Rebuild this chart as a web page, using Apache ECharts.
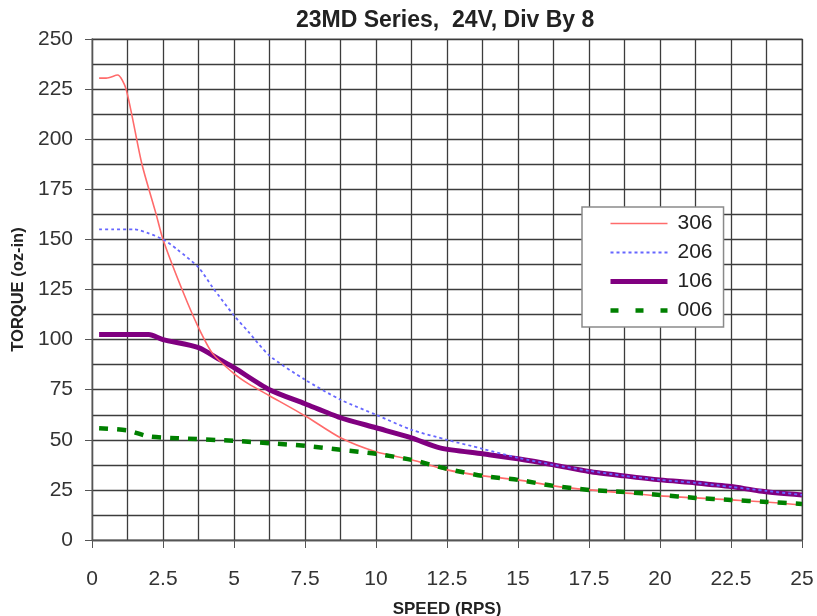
<!DOCTYPE html>
<html>
<head>
<meta charset="utf-8">
<script src="https://cdn.jsdelivr.net/npm/echarts@6/dist/echarts.min.js"></script>
<style>
html,body{margin:0;padding:0;background:#fff;}
#chart{width:817px;height:616px;}
</style>
</head>
<body>
<div id="chart"></div>
<script>
// ---- data (speed in RPS, torque in oz-in) ----
const seriesNames = ['306', '206', '106', '006'];

const speed306  = [0.25, 0.5, 0.9, 1.2, 1.75, 2.25, 2.5, 3.2, 3.75, 4.25, 5, 5.5, 6.25, 7.5, 8.75, 10, 11.25, 12.5, 13.75, 15, 16.25, 17.5, 18.75, 20, 21.25, 22.5, 23.75, 25];
const torque306 = [230.5, 230.5, 232, 225, 188, 163, 150, 124, 106, 93, 83, 78, 72, 62, 51, 44, 40, 35, 32, 30, 27, 25, 23.5, 22, 21, 20, 19, 17.5];

const speed206  = [0.25, 0.75, 1.5, 2.0, 2.5, 3.0, 3.75, 4.25, 5, 5.5, 6.25, 7.5, 8.75, 10, 11.25, 12.5, 13.75, 15, 16.25, 17.5, 18.75, 20, 21.25, 22.5, 23.75, 25];
const torque206 = [155, 155, 155, 153, 150, 145, 136, 126, 112, 104, 92, 80, 70, 62.5, 55, 50, 45.5, 41, 37.5, 34.5, 32, 30, 28.5, 26.5, 24.5, 22.5];

const speed106  = [0.25, 1, 2.0, 2.5, 3.75, 4.5, 5, 6.25, 7.5, 8.75, 10, 11.25, 12.25, 13.75, 15, 16.25, 17.5, 18.75, 20, 21.25, 22.5, 23.5, 25];
const torque106 = [102.5, 102.5, 102.5, 100, 96, 90, 86, 75, 68, 61, 56, 51, 46, 43, 40.5, 37.5, 34.2, 32, 30, 28.5, 26.7, 24.5, 22.5];

const speed006  = [0.25, 1.25, 2, 3, 5, 6.25, 7.5, 8.75, 10, 11.25, 12.5, 13.75, 15, 16.25, 17.5, 18.75, 20, 21.25, 22.5, 23.75, 25];
const torque006 = [55.8, 54.7, 51.7, 50.8, 49.5, 48.3, 47, 45, 43, 40, 35.5, 32, 30, 27, 25, 24, 22.5, 21, 20, 19, 18];

const xTickLabels = ['0', '2.5', '5', '7.5', '10', '12.5', '15', '17.5', '20', '22.5', '25'];
const yTickLabels = ['0', '25', '50', '75', '100', '125', '150', '175', '200', '225', '250'];

function pairs(xs, ys) { return xs.map((x, i) => [x, ys[i]]); }

const FONT = '"Liberation Sans", Arial, sans-serif';
const GRID = '#3c3c3c';

const COLORS = {'306': '#ff6b6b', '206': '#6666ff', '106': '#800080', '006': '#008000'};
const LINE = {
  '306': {color: COLORS['306'], width: 1.6},
  '206': {color: COLORS['206'], width: 1.8, type: [3, 3]},
  '106': {color: COLORS['106'], width: 5},
  '006': {color: COLORS['006'], width: 4.5, type: [9, 9]}
};
const LEGEND_LINE = {
  '306': {color: COLORS['306'], width: 1.6},
  '206': {color: COLORS['206'], width: 1.8, type: [3, 3]},
  '106': {color: COLORS['106'], width: 5},
  '006': {color: COLORS['006'], width: 4.5, type: [8, 17]}
};

const chart = echarts.init(document.getElementById('chart'), null, {renderer: 'canvas'});
chart.setOption({
  backgroundColor: '#fff',
  animation: false,
  title: {
    text: '23MD Series,  24V, Div By 8',
    left: 296, top: 9, padding: 0,
    textStyle: {fontFamily: FONT, fontSize: 23, fontWeight: 'bold', color: '#222'}
  },
  grid: {
    left: 92, right: 15, top: 39, bottom: 76,
    containLabel: false, outerBoundsMode: 'none',
    show: true, borderColor: '#b0b0b0', borderWidth: 1.5, backgroundColor: 'transparent'
  },
  legend: {
    orient: 'vertical', left: 582, top: 207,
    padding: [6, 11, 6, 26], itemGap: 8,
    itemWidth: 57, itemHeight: 21,
    backgroundColor: '#fff', borderColor: '#8a8a8a', borderWidth: 1.5,
    itemStyle: {opacity: 0},
    textStyle: {fontFamily: FONT, fontSize: 21, color: '#222', padding: [0, 0, 0, 5]},
    data: seriesNames.map(n => ({name: n, lineStyle: LEGEND_LINE[n]}))
  },
  xAxis: {
    type: 'value', min: 0, max: 25, interval: 2.5,
    name: 'SPEED (RPS)', nameLocation: 'middle', nameGap: 61,
    nameTextStyle: {fontFamily: FONT, fontSize: 17, fontWeight: 'bold', color: '#222'},
    axisLine: {show: true, lineStyle: {color: '#555', width: 1.3}},
    axisTick: {show: true, length: 8, lineStyle: {color: '#555'}},
    axisLabel: {fontFamily: FONT, fontSize: 21, color: '#333', margin: 29,
      formatter: v => xTickLabels[Math.round(v / 2.5)]},
    splitLine: {show: true, lineStyle: {color: GRID, width: 1.3}},
    minorTick: {show: false, splitNumber: 2},
    minorSplitLine: {show: true, lineStyle: {color: GRID, width: 1.3}}
  },
  yAxis: {
    type: 'value', min: 0, max: 250, interval: 25,
    name: 'TORQUE (oz-in)', nameLocation: 'middle', nameGap: 58, nameRotate: 90,
    nameTextStyle: {fontFamily: FONT, fontSize: 16.5, fontWeight: 'bold', color: '#222'},
    axisLine: {show: true, lineStyle: {color: '#555', width: 1.3}},
    axisTick: {show: true, length: 7, lineStyle: {color: '#555'}},
    axisLabel: {fontFamily: FONT, fontSize: 21, color: '#333', margin: 19,
      formatter: v => yTickLabels[Math.round(v / 25)]},
    splitLine: {show: true, lineStyle: {color: GRID, width: 1.3}},
    minorTick: {show: false, splitNumber: 2},
    minorSplitLine: {show: true, lineStyle: {color: GRID, width: 1.3}}
  },
  series: [
    {name: '306', type: 'line', showSymbol: false, symbol: 'none', smooth: 0.25,
     data: pairs(speed306, torque306), z: 3,
     lineStyle: LINE['306'], itemStyle: {color: COLORS['306']}},
    {name: '206', type: 'line', showSymbol: false, symbol: 'none', smooth: 0.25,
     data: pairs(speed206, torque206), z: 4,
     lineStyle: LINE['206'], itemStyle: {color: COLORS['206']}},
    {name: '106', type: 'line', showSymbol: false, symbol: 'none', smooth: 0.25,
     data: pairs(speed106, torque106), z: 2,
     lineStyle: LINE['106'], itemStyle: {color: COLORS['106']}},
    {name: '006', type: 'line', showSymbol: false, symbol: 'none', smooth: 0.25,
     data: pairs(speed006, torque006), z: 5,
     lineStyle: LINE['006'], itemStyle: {color: COLORS['006']}}
  ]
});
</script>
</body>
</html>
